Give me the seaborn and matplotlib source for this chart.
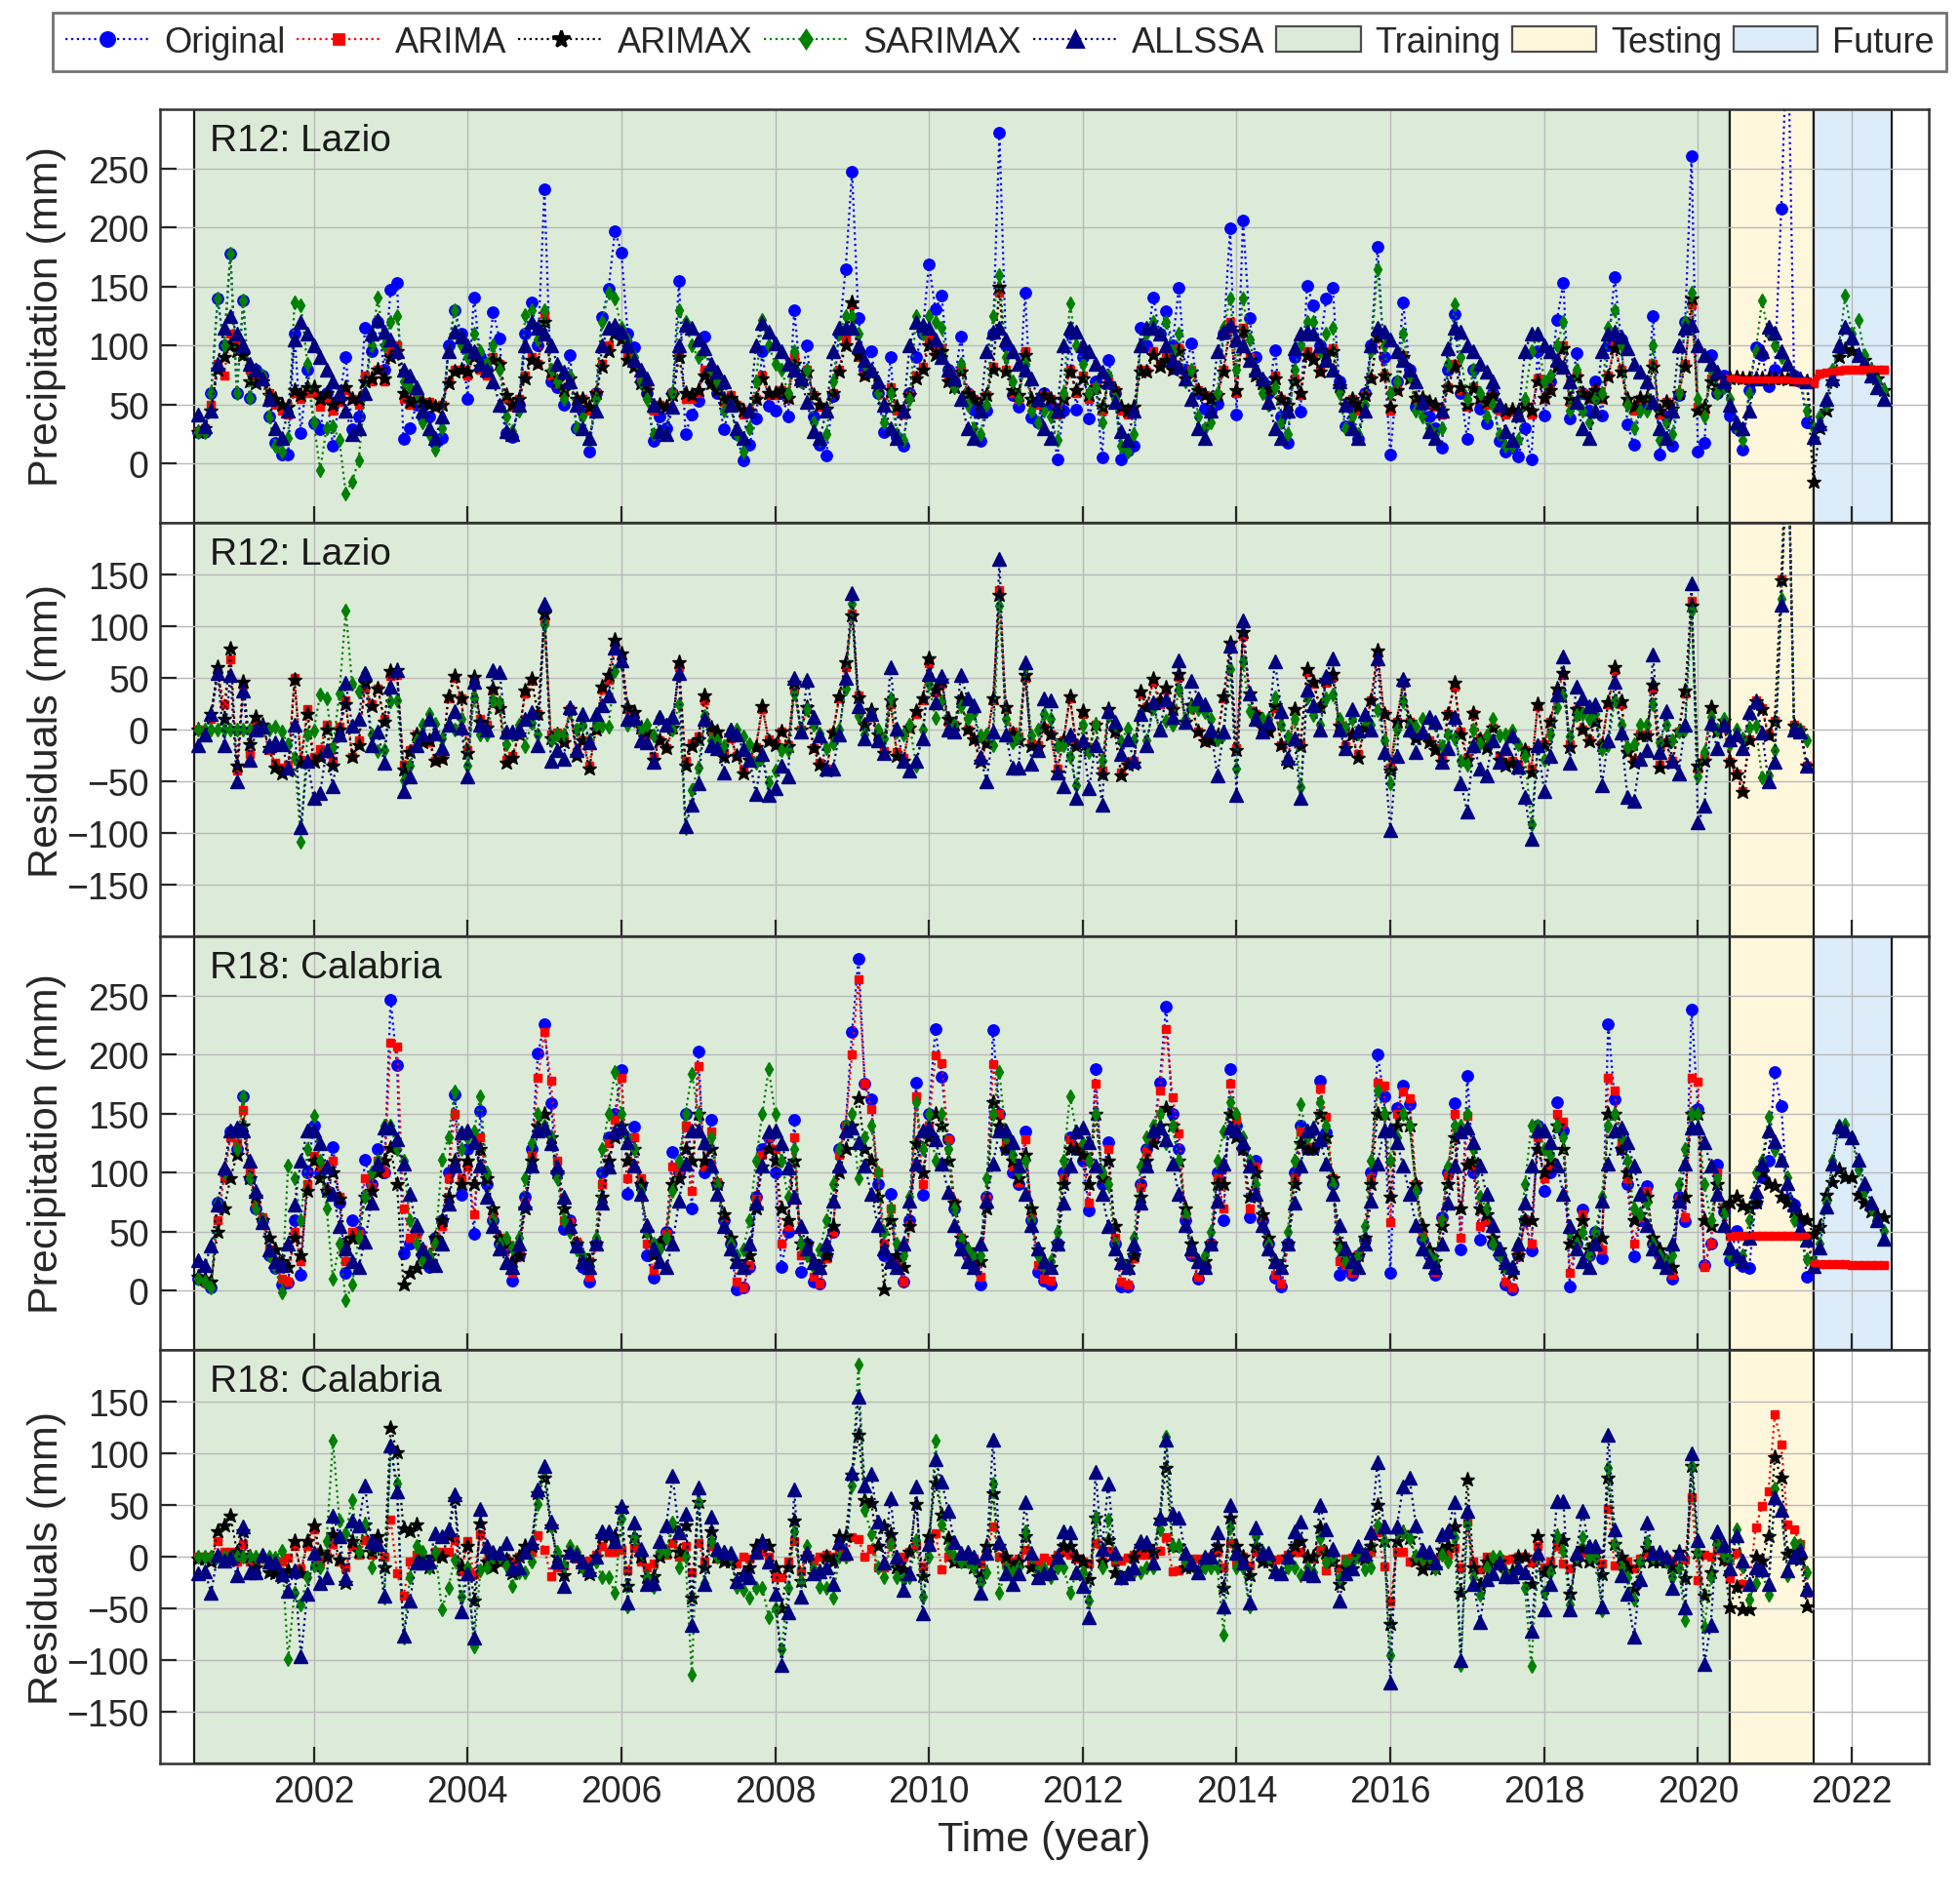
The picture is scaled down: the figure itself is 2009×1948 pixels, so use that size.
import numpy as np
import pandas as pd
import seaborn as sns
import matplotlib.pyplot as plt
from matplotlib.lines import Line2D
from matplotlib.patches import Patch

# monthly precipitation (mm), Jul 2000 .. Jun 2021 (training + testing)
lazio_orig = [
    27, 27, 60, 140, 100, 178,
    60, 138, 56, 80, 75, 40, 18, 8, 8, 110, 26, 80,
    34, 29, 60, 15, 55, 90, 29, 40, 115, 95, 120, 80,
    147, 153, 21, 30, 50, 40, 40, 18, 22, 100, 130, 110,
    55, 141, 90, 80, 128, 106, 26, 23, 50, 110, 137, 100,
    232, 70, 65, 50, 92, 30, 45, 10, 60, 124, 148, 197,
    179, 110, 99, 70, 60, 19, 40, 30, 60, 155, 25, 42,
    53, 108, 70, 60, 29, 50, 25, 3, 16, 38, 95, 49,
    45, 60, 40, 130, 70, 100, 40, 16, 7, 57, 110, 165,
    247, 123, 80, 95, 60, 27, 90, 23, 15, 60, 90, 110,
    169, 131, 142, 80, 70, 108, 60, 46, 19, 45, 110, 280,
    100, 58, 48, 145, 39, 35, 60, 50, 4, 45, 110, 46,
    90, 38, 70, 5, 88, 60, 4, 11, 15, 115, 100, 141,
    110, 129, 100, 149, 80, 102, 60, 47, 45, 51, 110, 199,
    42, 206, 123, 90, 70, 60, 96, 40, 18, 90, 44, 151,
    134, 100, 140, 149, 70, 32, 50, 21, 60, 100, 184, 90,
    8, 70, 137, 80, 48, 50, 40, 30, 14, 80, 127, 60,
    21, 80, 47, 34, 60, 19, 10, 14, 6, 30, 4, 95,
    41, 70, 122, 153, 38, 94, 60, 45, 70, 41, 100, 158,
    105, 33, 16, 50, 50, 125, 8, 40, 15, 58, 120, 260,
    10, 18, 92, 60, 75, 41, 30, 12, 62, 99, 92, 66,
    80, 216, 380, 75, 70, 35,
]
lazio_arima = [
    27, 30, 50, 85, 75, 110,
    100, 95, 80, 75, 72, 60, 50, 45, 42, 60, 55, 60,
    60, 48, 55, 45, 52, 62, 55, 50, 75, 70, 80, 70,
    95, 100, 55, 50, 55, 50, 52, 48, 50, 70, 80, 80,
    75, 95, 80, 75, 90, 85, 55, 48, 55, 75, 90, 85,
    127, 75, 68, 60, 72, 52, 55, 45, 60, 85, 100, 115,
    110, 90, 85, 70, 65, 45, 50, 48, 60, 95, 55, 55,
    60, 80, 70, 65, 52, 58, 50, 42, 45, 55, 75, 58,
    58, 62, 55, 90, 70, 80, 58, 48, 45, 60, 80, 105,
    135, 90, 75, 78, 65, 48, 65, 45, 42, 58, 75, 82,
    105, 95, 98, 72, 65, 80, 60, 55, 48, 58, 82, 145,
    80, 60, 55, 95, 52, 50, 58, 55, 42, 55, 80, 60,
    75, 55, 65, 45, 70, 62, 45, 42, 45, 80, 78, 95,
    85, 90, 80, 98, 72, 80, 62, 58, 55, 58, 80, 120,
    60, 115, 90, 75, 68, 62, 75, 55, 48, 72, 58, 95,
    90, 78, 95, 98, 65, 48, 55, 45, 58, 72, 110, 75,
    45, 62, 92, 72, 55, 55, 50, 48, 42, 65, 85, 62,
    48, 65, 55, 50, 58, 45, 42, 44, 40, 50, 42, 72,
    55, 62, 85, 100, 52, 75, 60, 55, 62, 55, 75, 100,
    80, 52, 45, 55, 55, 85, 42, 52, 45, 60, 85, 135,
    48, 45, 72, 62, 68, 72, 72, 71, 71, 71, 71, 71,
    71, 71, 71, 70, 70, 70,
]
lazio_arimax = [
    27, 30, 45, 80, 90, 100,
    95, 92, 70, 68, 70, 58, 55, 50, 48, 62, 58, 65,
    65, 55, 60, 50, 55, 65, 55, 55, 70, 72, 80, 72,
    90, 95, 60, 52, 55, 52, 50, 48, 50, 68, 78, 80,
    78, 90, 82, 78, 88, 85, 58, 50, 55, 72, 88, 85,
    120, 78, 70, 62, 72, 55, 55, 48, 60, 82, 95, 110,
    105, 88, 82, 68, 62, 48, 50, 48, 58, 90, 60, 58,
    62, 75, 68, 62, 55, 56, 50, 45, 45, 55, 72, 60,
    60, 62, 56, 85, 70, 78, 58, 50, 47, 60, 78, 100,
    137, 92, 75, 76, 65, 50, 62, 48, 45, 58, 72, 80,
    100, 92, 95, 70, 65, 78, 60, 55, 50, 58, 80, 150,
    78, 62, 58, 92, 55, 52, 58, 55, 45, 55, 78, 62,
    72, 58, 65, 48, 68, 62, 48, 45, 48, 78, 78, 92,
    82, 88, 80, 95, 72, 78, 62, 58, 55, 58, 78, 115,
    62, 112, 88, 75, 68, 62, 72, 55, 50, 70, 60, 92,
    88, 78, 92, 95, 66, 50, 55, 48, 58, 72, 108, 75,
    48, 62, 90, 72, 56, 56, 52, 50, 45, 65, 82, 65,
    50, 64, 56, 52, 58, 48, 45, 46, 44, 50, 45, 70,
    56, 62, 82, 98, 55, 74, 60, 56, 62, 56, 74, 98,
    78, 55, 48, 56, 56, 82, 45, 52, 47, 60, 82, 140,
    45, 48, 70, 62, 66, 72, 73, 72, 72, 72, 72, 72,
    72, 72, 71, 71, 71, 70,
]
lazio_sarimax = [
    27, 27, 60, 140, 100, 178,
    60, 138, 56, 80, 75, 40, 15, 10, 22, 137, 134, 85,
    35, -5, 30, 32, 20, -25, -15, 3, 60, 100, 141, 100,
    120, 125, 70, 65, 60, 35, 25, 12, 30, 95, 130, 100,
    90, 110, 95, 85, 100, 80, 40, 28, 45, 126, 130, 105,
    130, 80, 70, 55, 75, 30, 40, 20, 55, 120, 145, 140,
    115, 105, 90, 70, 55, 25, 28, 25, 60, 130, 120, 100,
    90, 95, 80, 70, 45, 50, 25, 10, 30, 70, 122, 100,
    85, 80, 60, 95, 70, 80, 35, 20, 25, 70, 110, 125,
    125, 110, 85, 80, 60, 35, 60, 25, 20, 55, 125, 110,
    125, 120, 115, 80, 65, 85, 50, 30, 25, 50, 125, 160,
    90, 70, 55, 85, 45, 35, 45, 40, 20, 60, 136, 100,
    85, 60, 65, 35, 75, 55, 15, 10, 25, 100, 110, 120,
    110, 120, 95, 110, 70, 80, 40, 30, 35, 60, 115, 140,
    80, 140, 105, 80, 60, 50, 65, 35, 25, 80, 100, 120,
    120, 95, 110, 115, 60, 30, 40, 25, 50, 95, 165, 100,
    60, 70, 110, 75, 45, 40, 30, 25, 30, 85, 135, 90,
    55, 80, 60, 40, 50, 25, 15, 15, 20, 55, 95, 110,
    70, 75, 100, 120, 45, 80, 45, 35, 55, 60, 115, 130,
    100, 50, 30, 45, 45, 100, 20, 35, 25, 60, 120, 145,
    55, 40, 80, 60, 65, 55, 30, 20, 60, 95, 138, 110,
    100, 90, 85, 75, 70, 45,
]
lazio_allssa = [
    42, 32, 45, 85, 115, 125,
    110, 100, 85, 80, 72, 55, 30, 22, 45, 105, 120, 110,
    100, 90, 80, 70, 60, 45, 25, 30, 60, 110, 122, 112,
    105, 95, 80, 75, 65, 45, 30, 22, 40, 95, 112, 108,
    100, 95, 85, 80, 70, 50, 28, 25, 50, 100, 120, 115,
    110, 100, 85, 78, 70, 50, 30, 22, 45, 100, 115, 118,
    112, 100, 88, 80, 72, 50, 28, 25, 48, 100, 118, 115,
    105, 98, 85, 78, 70, 50, 30, 22, 45, 100, 119, 112,
    102, 95, 85, 80, 72, 52, 28, 22, 45, 95, 115, 115,
    115, 100, 88, 80, 70, 50, 30, 22, 45, 100, 120, 118,
    115, 105, 90, 80, 72, 55, 30, 22, 45, 95, 112, 115,
    105, 95, 85, 80, 72, 55, 30, 22, 45, 100, 115, 112,
    100, 95, 85, 78, 70, 52, 28, 20, 45, 100, 115, 115,
    110, 100, 88, 82, 72, 55, 30, 22, 45, 95, 112, 118,
    105, 100, 88, 80, 72, 52, 30, 22, 45, 98, 110, 112,
    110, 100, 88, 80, 70, 50, 30, 22, 45, 100, 115, 112,
    105, 95, 88, 80, 70, 52, 28, 22, 45, 98, 115, 112,
    100, 95, 85, 78, 70, 50, 28, 20, 42, 95, 110, 110,
    100, 95, 88, 82, 70, 52, 30, 22, 45, 95, 110, 112,
    108, 98, 85, 78, 70, 52, 30, 22, 45, 100, 115, 118,
    100, 92, 85, 78, 70, 50, 35, 30, 45, 72, 95, 116,
    111, 95, 85, 75, 72, 70,
]
# forecasts Jul 2021 .. Jun 2022
lazio_fut_arima = [68, 76, 77, 78, 79, 80, 80, 80, 80, 80, 80, 80]
lazio_fut_arimax = [-15, 30, 45, 70, 90, 97, 95, 92, 88, 80, 72, 62]
lazio_fut_sarimax = [30, 40, 50, 80, 100, 142, 110, 122, 92, 80, 70, 62]
lazio_fut_allssa = [23, 34, 55, 72, 100, 116, 107, 92, 85, 75, 65, 55]

cal_orig = [
    10, 8, 3, 75, 100, 135,
    120, 165, 95, 70, 60, 30, 19, 5, 7, 60, 14, 100,
    140, 100, 85, 122, 75, 15, 60, 50, 111, 90, 120, 100,
    246, 191, 32, 40, 50, 30, 20, 45, 60, 100, 166, 81,
    120, 48, 152, 90, 60, 40, 37, 9, 30, 80, 120, 201,
    226, 159, 100, 52, 60, 40, 20, 8, 40, 100, 130, 150,
    187, 82, 139, 90, 30, 11, 40, 50, 118, 100, 150, 70,
    203, 100, 145, 90, 60, 40, 1, 3, 20, 80, 120, 130,
    100, 20, 50, 145, 16, 40, 8, 6, 30, 50, 120, 140,
    219, 281, 175, 162, 90, 30, 82, 20, 8, 60, 176, 81,
    150, 222, 181, 128, 70, 40, 30, 20, 5, 80, 221, 150,
    120, 100, 90, 135, 60, 16, 9, 5, 40, 100, 130, 120,
    110, 68, 188, 90, 126, 40, 4, 4, 30, 90, 120, 130,
    176, 241, 150, 120, 60, 30, 10, 20, 40, 100, 60, 188,
    140, 120, 62, 110, 60, 40, 11, 4, 40, 100, 140, 120,
    120, 178, 134, 90, 14, 20, 14, 30, 43, 100, 200, 165,
    15, 155, 174, 158, 86, 43, 30, 14, 62, 100, 159, 35,
    182, 100, 43, 60, 40, 30, 5, 1, 30, 60, 34, 140,
    85, 100, 160, 136, 4, 40, 69, 30, 50, 28, 226, 162,
    120, 90, 29, 60, 89, 40, 30, 20, 10, 80, 59, 238,
    154, 22, 40, 107, 67, 26, 51, 21, 19, 75, 96, 110,
    185, 156, 78, 73, 59, 12,
]
cal_arima = [
    10, 8, 5, 60, 95, 130,
    125, 153, 100, 75, 62, 35, 25, 10, 8, 50, 25, 90,
    114, 105, 85, 110, 80, 25, 50, 48, 95, 88, 110, 100,
    210, 207, 70, 45, 48, 35, 25, 40, 55, 95, 150, 95,
    105, 65, 130, 95, 65, 45, 40, 15, 30, 75, 115, 180,
    219, 178, 110, 60, 58, 42, 25, 12, 38, 90, 125, 145,
    180, 95, 130, 95, 40, 18, 38, 48, 105, 100, 140, 85,
    190, 105, 135, 92, 62, 42, 8, 3, 22, 78, 115, 130,
    120, 40, 55, 130, 30, 38, 12, 6, 28, 50, 115, 140,
    200, 264, 175, 154, 100, 40, 70, 25, 8, 55, 165, 90,
    140, 199, 193, 128, 75, 45, 32, 22, 12, 78, 192, 150,
    125, 105, 92, 128, 65, 22, 10, 9, 38, 95, 128, 122,
    115, 75, 175, 95, 120, 45, 8, 5, 28, 88, 118, 128,
    170, 222, 164, 133, 65, 32, 12, 22, 40, 95, 70, 175,
    145, 120, 70, 105, 62, 42, 14, 6, 38, 95, 135, 122,
    122, 171, 147, 95, 25, 22, 15, 30, 42, 95, 176, 174,
    58, 150, 169, 163, 90, 48, 32, 16, 60, 98, 150, 45,
    148, 105, 55, 60, 42, 32, 8, 3, 30, 60, 40, 130,
    95, 105, 150, 143, 15, 40, 65, 32, 48, 35, 180, 170,
    125, 95, 40, 62, 85, 42, 30, 22, 14, 78, 62, 180,
    177, 20, 40, 100, 70, 47, 47, 47, 47, 47, 47, 47,
    47, 47, 47, 47, 47, 47,
]
cal_arimax = [
    12, 10, 8, 50, 70, 95,
    115, 140, 95, 80, 60, 45, 35, 25, 20, 45, 30, 85,
    110, 95, 85, 100, 78, 40, 45, 45, 80, 85, 100, 110,
    121, 90, 5, 15, 19, 30, 30, 45, 60, 80, 110, 90,
    110, 90, 120, 95, 70, 45, 40, 25, 30, 70, 110, 140,
    150, 130, 100, 70, 55, 40, 30, 25, 40, 80, 110, 130,
    140, 110, 120, 90, 50, 30, 40, 45, 90, 95, 120, 110,
    150, 110, 120, 90, 65, 45, 25, 20, 30, 70, 105, 120,
    110, 70, 60, 110, 40, 40, 25, 20, 30, 55, 100, 120,
    140, 163, 120, 110, 80, 1, 60, 30, 20, 55, 125, 100,
    130, 150, 140, 110, 75, 45, 35, 30, 25, 70, 160, 140,
    120, 110, 95, 115, 70, 35, 25, 20, 40, 90, 120, 120,
    115, 90, 150, 95, 110, 55, 25, 20, 30, 80, 110, 125,
    140, 155, 140, 110, 70, 40, 25, 25, 40, 90, 90, 150,
    130, 120, 80, 100, 65, 45, 25, 20, 40, 90, 125, 120,
    120, 150, 130, 95, 40, 30, 25, 30, 45, 90, 150, 150,
    80, 140, 150, 140, 90, 55, 35, 25, 55, 90, 130, 70,
    107, 110, 70, 65, 45, 35, 20, 15, 30, 60, 60, 120,
    100, 110, 140, 120, 40, 45, 60, 35, 45, 45, 150, 150,
    120, 100, 60, 65, 80, 45, 35, 25, 20, 75, 80, 150,
    150, 60, 55, 90, 70, 75, 80, 72, 70, 75, 100, 90,
    89, 80, 75, 67, 62, 60,
]
cal_sarimax = [
    10, 8, 3, 75, 100, 135,
    120, 165, 95, 70, 60, 30, 20, -1, 106, 95, 60, 120,
    148, 110, 70, 10, 40, -8, 5, 45, 80, 100, 110, 140,
    140, 120, 110, 60, 40, 25, 30, 40, 111, 130, 169, 120,
    130, 135, 165, 100, 60, 40, 45, 37, 45, 95, 125, 150,
    140, 130, 95, 60, 50, 35, 30, 20, 45, 120, 150, 185,
    150, 130, 120, 85, 50, 40, 35, 45, 85, 110, 150, 184,
    150, 125, 130, 90, 55, 40, 30, 35, 60, 110, 150, 188,
    150, 110, 80, 120, 40, 30, 20, 35, 60, 90, 120, 140,
    150, 95, 130, 140, 100, 50, 70, 40, 30, 80, 160, 120,
    150, 110, 150, 120, 70, 45, 35, 30, 30, 95, 150, 185,
    130, 115, 100, 110, 60, 30, 20, 25, 50, 110, 165, 135,
    125, 110, 150, 100, 90, 40, 25, 20, 45, 105, 130, 140,
    150, 125, 140, 110, 65, 35, 25, 30, 50, 110, 135, 160,
    150, 130, 110, 90, 55, 40, 25, 20, 50, 110, 158, 130,
    135, 160, 140, 90, 35, 25, 20, 30, 55, 110, 170, 150,
    110, 130, 150, 140, 85, 45, 30, 25, 60, 105, 140, 140,
    150, 120, 80, 70, 40, 30, 20, 20, 40, 90, 140, 140,
    120, 115, 140, 130, 50, 40, 50, 30, 50, 80, 140, 150,
    130, 110, 70, 65, 75, 40, 30, 25, 30, 90, 120, 150,
    150, 90, 60, 95, 65, 30, 25, 30, 60, 100, 110, 147,
    119, 111, 96, 60, 48, 27,
]
cal_allssa = [
    26, 22, 38, 73, 104, 136,
    138, 136, 110, 85, 58, 35, 25, 22, 40, 73, 110, 136,
    136, 125, 105, 82, 55, 36, 25, 20, 42, 75, 108, 138,
    138, 128, 108, 82, 56, 36, 25, 22, 40, 74, 106, 134,
    136, 126, 106, 80, 55, 36, 24, 20, 40, 75, 106, 136,
    138, 125, 105, 80, 55, 38, 25, 20, 40, 75, 105, 135,
    138, 126, 106, 82, 56, 36, 25, 20, 40, 76, 108, 136,
    136, 126, 106, 82, 55, 36, 25, 20, 40, 75, 106, 135,
    136, 125, 104, 80, 55, 36, 24, 20, 40, 76, 106, 136,
    138, 126, 106, 82, 56, 36, 25, 20, 40, 76, 108, 136,
    138, 128, 108, 84, 56, 36, 25, 20, 40, 76, 108, 136,
    136, 126, 106, 82, 56, 36, 25, 20, 40, 75, 106, 135,
    138, 126, 106, 82, 55, 36, 24, 20, 40, 75, 106, 136,
    138, 128, 108, 82, 56, 36, 25, 20, 40, 76, 108, 138,
    136, 126, 106, 82, 56, 36, 25, 20, 40, 75, 106, 136,
    138, 128, 108, 82, 56, 36, 25, 20, 40, 76, 108, 136,
    137, 126, 106, 82, 56, 36, 25, 20, 40, 75, 106, 135,
    138, 126, 106, 82, 56, 36, 24, 20, 40, 75, 106, 136,
    136, 126, 106, 82, 55, 36, 25, 20, 40, 76, 108, 136,
    138, 126, 106, 82, 56, 36, 25, 20, 40, 76, 108, 138,
    138, 126, 106, 82, 56, 37, 30, 25, 45, 85, 108, 136,
    127, 111, 91, 73, 52, 43,
]
cal_fut_arima = [23, 23, 23, 23, 23, 23, 22, 22, 22, 22, 22, 22]
cal_fut_arimax = [48, 54, 81, 92, 103, 96, 96, 81, 75, 67, 64, 62]
cal_fut_sarimax = [25, 40, 75, 110, 140, 141, 130, 103, 85, 70, 60, 51]
cal_fut_allssa = [21, 37, 71, 108, 139, 136, 130, 111, 91, 75, 60, 44]

# period boundaries (decimal year)
train_start, test_start, future_start, future_end = 2000.44, 2020.41, 2021.5, 2022.52

models = ['ARIMA', 'ARIMAX', 'SARIMAX', 'ALLSSA']
styles = {
    'Original': dict(color='#0000ff', marker='o', ms=4.1),
    'ARIMA': dict(color='#ff0000', marker='s', ms=2.9),
    'ARIMAX': dict(color='#000000', marker='*', ms=5.6),
    'SARIMAX': dict(color='#008000', marker='d', ms=3.8),
    'ALLSSA': dict(color='#000080', marker='^', ms=5.1),
}
train_col, test_col, fut_col = '#dcebd8', '#fff7dc', '#dcecf9'

sns.set_theme(style='whitegrid', rc={
    'axes.edgecolor': '0.2', 'axes.linewidth': 0.9,
    'grid.color': '0.72', 'grid.linewidth': 0.5,
    'xtick.direction': 'in', 'ytick.direction': 'in',
    'xtick.bottom': True, 'ytick.left': True,
    'xtick.major.size': 6, 'ytick.major.size': 6,
    'xtick.major.width': 0.8, 'ytick.major.width': 0.8,
    'xtick.color': '0.15', 'ytick.color': '0.15',
})
plt.rcParams['font.family'] = ['Liberation Sans', 'DejaVu Sans']

months = pd.date_range('2000-07-01', periods=len(lazio_orig), freq='MS')
t = np.asarray(months.year + (months.month - 1) / 12, dtype=float)
fmonths = pd.date_range('2021-07-01', periods=len(lazio_fut_allssa), freq='MS')
tf = np.asarray(fmonths.year + (fmonths.month - 1) / 12, dtype=float)
is_test = np.asarray(months >= '2020-06-01')


def draw(ax, x, y, name, lw=0.8):
    st = styles[name]
    sns.lineplot(x=x, y=y, ax=ax, color=st['color'], marker=st['marker'],
                 markersize=st['ms'], markeredgecolor=st['color'],
                 markeredgewidth=0.5, linestyle=':', linewidth=lw,
                 sort=False, estimator=None, legend=False)


def shade(ax, future=True):
    ax.axvspan(train_start, test_start, facecolor=train_col, edgecolor='0.1', lw=0.8, zorder=0)
    ax.axvspan(test_start, future_start, facecolor=test_col, edgecolor='0.1', lw=0.8, zorder=0)
    if future:
        ax.axvspan(future_start, future_end, facecolor=fut_col, edgecolor='0.1', lw=0.8, zorder=0)


def precip_panel(ax, label, orig, fits, futs):
    shade(ax, True)
    draw(ax, t, np.array(orig, float), 'Original')
    for m in models:
        draw(ax, np.concatenate([t, tf]), np.concatenate([fits[m], futs[m]]).astype(float), m)
    # ARIMA forecast drawn as a dense red band
    ax.plot(t[is_test], np.array(fits['ARIMA'], float)[is_test], color='#ff0000', lw=2.6, zorder=3)
    ax.plot(tf, np.array(futs['ARIMA'], float), color='#ff0000', lw=2.6, zorder=3)
    ax.set_ylim(-50, 300)
    ax.set_yticks(np.arange(0, 251, 50))
    ax.set_ylabel('Precipitation (mm)', fontsize=15.5)
    ax.text(0.028, 0.925, label, transform=ax.transAxes, fontsize=14, ha='left', va='center', color='0.1')


def resid_panel(ax, label, orig, fits):
    shade(ax, False)
    o = np.array(orig, float)
    for m in models:
        draw(ax, t, o - np.array(fits[m], float), m)
    ax.set_ylim(-200, 200)
    ax.set_yticks(np.arange(-150, 151, 50))
    ax.set_ylabel('Residuals (mm)', fontsize=15.5)
    ax.text(0.028, 0.925, label, transform=ax.transAxes, fontsize=14, ha='left', va='center', color='0.1')


lazio_fits = dict(zip(models, [lazio_arima, lazio_arimax, lazio_sarimax, lazio_allssa]))
lazio_futs = dict(zip(models, [lazio_fut_arima, lazio_fut_arimax, lazio_fut_sarimax, lazio_fut_allssa]))
cal_fits = dict(zip(models, [cal_arima, cal_arimax, cal_sarimax, cal_allssa]))
cal_futs = dict(zip(models, [cal_fut_arima, cal_fut_arimax, cal_fut_sarimax, cal_fut_allssa]))

fig, axes = plt.subplots(4, 1, figsize=(2009 / 200, 1949 / 200), dpi=200, sharex=True)
fig.subplots_adjust(left=0.0816, right=0.984, top=0.942, bottom=0.0718, hspace=0)

precip_panel(axes[0], 'R12: Lazio', lazio_orig, lazio_fits, lazio_futs)
resid_panel(axes[1], 'R12: Lazio', lazio_orig, lazio_fits)
precip_panel(axes[2], 'R18: Calabria', cal_orig, cal_fits, cal_futs)
resid_panel(axes[3], 'R18: Calabria', cal_orig, cal_fits)

for ax in axes:
    ax.set_xlim(2000, 2023)
    ax.set_xticks(np.arange(2002, 2023, 2))
    ax.tick_params(labelsize=13.5, pad=4)
    ax.yaxis.set_label_coords(-0.053, 0.5)
    ax.set_xlabel('')
    for s in ax.spines.values():
        s.set_zorder(5)
axes[-1].set_xlabel('Time (year)', fontsize=15.5)

handles = []
for name in ['Original'] + models:
    st = styles[name]
    handles.append(Line2D([0], [0], color=st['color'], marker=st['marker'], ms=st['ms'] + 1,
                          linestyle=':', lw=0.8, markeredgecolor=st['color']))
for col in [train_col, test_col, fut_col]:
    handles.append(Patch(facecolor=col, edgecolor='0.3', lw=0.8))
labels = ['Original'] + models + ['Training', 'Testing', 'Future']
fig.legend(handles, labels, loc='center', ncol=8, mode='expand',
           bbox_to_anchor=(0.027, 1 - 70 / 1949, 0.966, 52 / 1949),
           frameon=True, fancybox=False, edgecolor='0.45', framealpha=1,
           fontsize=13, handlelength=2.4, handletextpad=0.4, borderaxespad=0,
           columnspacing=0.8, borderpad=0.35)

fig.savefig('out.png', dpi=200)
